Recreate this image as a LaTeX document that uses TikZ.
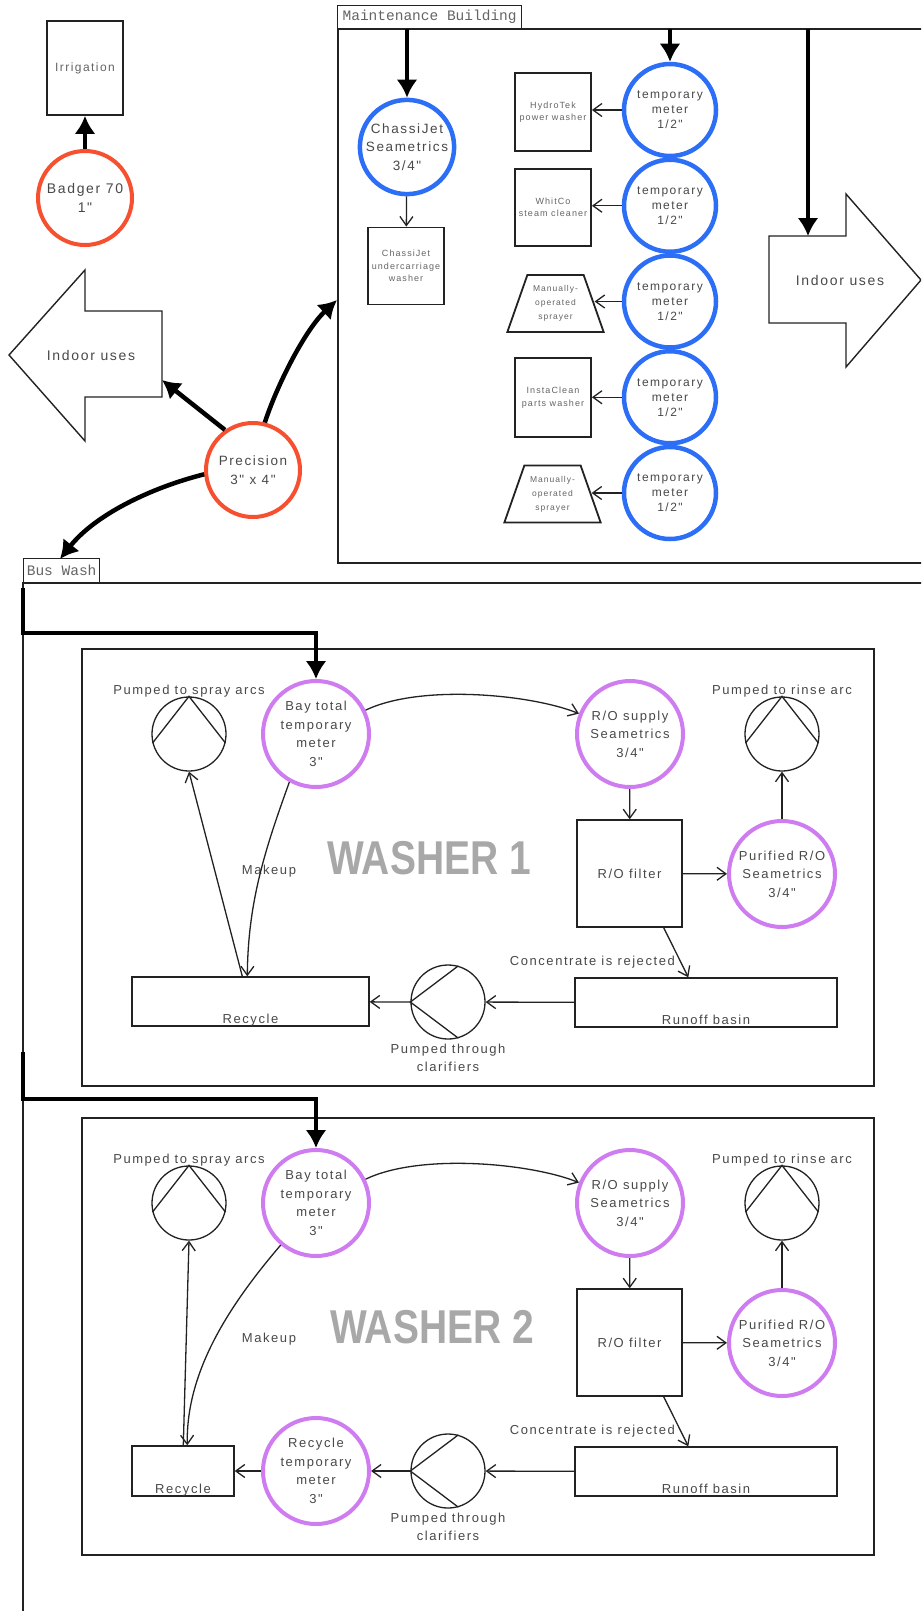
\documentclass[tikz,border=0pt]{standalone}
\usepackage{fontspec}
\setmainfont{Liberation Sans}
\newfontfamily\lblfont[LetterSpace=12]{Liberation Sans}
\newfontfamily\tagfont{Liberation Mono}
\usepackage{tikz}
\usetikzlibrary{shapes.geometric, arrows.meta}
\definecolor{meterred}{RGB}{246, 80, 48}
\definecolor{meterblue}{RGB}{44, 110, 246}
\definecolor{meterpurple}{RGB}{206, 124, 240}
\definecolor{textgray}{RGB}{72, 72, 72}
\definecolor{equipgray}{RGB}{100, 100, 100}
\definecolor{titlegray}{RGB}{168, 168, 168}
\definecolor{linegray}{RGB}{34, 34, 34}

\begin{document}
\begin{tikzpicture}[
  x=1pt, y=-1pt,
  meter/.style={circle, line width=4pt, inner sep=0pt, align=center, text=textgray},
  redmeter/.style={meter, draw=meterred, minimum size=94pt, font=\lblfont\fontsize{14}{19}\selectfont},
  bluemeter/.style={meter, draw=meterblue, line width=4.5pt, minimum size=92pt, font=\lblfont\fontsize{12}{15}\selectfont},
  washmeter/.style={meter, draw=meterpurple, minimum size=106pt, font=\lblfont\fontsize{13}{18.5}\selectfont},
  equip/.style={draw=linegray, line width=1.8pt, minimum width=76pt, minimum height=78pt, inner sep=0pt, align=center, text=equipgray, font=\lblfont\fontsize{9}{12.5}\selectfont},
  sprayer/.style={equip, trapezium, trapezium angle=66, trapezium stretches=true, minimum width=97pt, minimum height=57pt, font=\lblfont\fontsize{8.5}{14}\selectfont},
  tank/.style={draw=linegray, line width=1.4pt, inner sep=0pt, text=textgray, font=\lblfont\fontsize{13}{18.5}\selectfont},
  pump/.style={circle, draw=linegray, line width=1.3pt, minimum size=74pt, inner sep=0pt},
  impeller/.style={draw=linegray, line width=1.3pt},
  lbl/.style={text=textgray, inner sep=0pt, align=center, font=\lblfont\fontsize{13}{18.5}\selectfont},
  biglbl/.style={lbl, font=\lblfont\fontsize{14}{19}\selectfont},
  zone/.style={draw=linegray, line width=1.4pt},
  zonetag/.style={draw=linegray, line width=1.3pt, inner sep=0pt, text=equipgray, font=\tagfont\fontsize{14.5}{16}\selectfont},
  title/.style={text=titlegray, inner sep=0pt, font=\bfseries\fontsize{47.5}{50}\selectfont},
  feed/.style={line width=4.5pt, draw=black, -{Latex[length=18pt, width=21pt]}},
  flow/.style={line width=1.3pt, draw=linegray, -{Straight Barb[length=9pt, width=13pt]}}
]
  \useasboundingbox (0,0) rectangle (921,1611);
  \clip (0,0) rectangle (921,1611);

  \node[equip, minimum height=94pt, font=\lblfont\fontsize{12}{15}\selectfont] (irrig) at (85,68) {Irrigation};
  \node[redmeter] (badger) at (85,198) {Badger 70\\1"};
  \draw[feed] (badger) -- (irrig);

  \draw[zone] (9,355) -- (85,270) -- (85,311) -- (162,311) -- (162,397) -- (85,397) -- (85,441) -- cycle;
  \node[biglbl] (indoorL) at (91,355) {Indoor uses};
  \coordinate (indoorLin) at (162,380);

  \node[redmeter, font=\lblfont\fontsize{13.5}{19}\selectfont] (precision) at (253,470) {Precision\\3" x 4"};
  \coordinate (maintin) at (337,300);
  \coordinate (buswashin) at (60,559);
  \draw[feed] (precision.125) -- (indoorLin);
  \draw[feed] (precision.76) .. controls (277,385) and (305,330) .. (maintin);
  \draw[feed] (precision.185) .. controls (150,488) and (95,515) .. (buswashin);

  \node[zonetag, minimum width=184pt, minimum height=23pt, anchor=south west] (maintTag) at (337,29) {Maintenance Building};
  \draw[zone] (930,29) -- (338,29) -- (338,563) -- (930,563);
  \coordinate (chassiin) at (407,29);
  \coordinate (metersin) at (670,29);
  \coordinate (indoorRin) at (808,29);

  \node[bluemeter, font=\lblfont\fontsize{13.5}{18.5}\selectfont] (chassimeter) at (407,147) {ChassiJet\\Seametrics\\3/4"};
  \node[equip, minimum height=77pt] (chassiwasher) at (406,266) {ChassiJet\\undercarriage\\washer};
  \draw[feed] (chassiin) -- (chassimeter);
  \draw[flow] (chassimeter) -- (chassiwasher);

  \foreach \i/\y in {1/110, 2/205.75, 3/301.5, 4/397.25, 5/493}
    \node[bluemeter] (m\i) at (670,\y) {temporary\\meter\\1/2"};
  \draw[feed] (metersin) -- (m1);

  \node[equip] (u1) at (553,112) {HydroTek\\power washer};
  \node[equip, minimum height=77pt] (u2) at (553,207.5) {WhitCo\\steam cleaner};
  \node[sprayer] (u3) at (555.5,303.5) {Manually-\\operated\\sprayer};
  \node[equip, minimum height=79pt] (u4) at (553,397.5) {InstaClean\\parts washer};
  \node[sprayer] (u5) at (552.5,494) {Manually-\\operated\\sprayer};
  \foreach \i in {1,...,5}
    \draw[flow] (m\i.west) -- (m\i.west -| u\i.east);

  \draw[zone] (769,236) -- (846,236) -- (846,194) -- (921,280) -- (846,367) -- (846,323) -- (769,323) -- cycle;
  \node[biglbl] (indoorR) at (840,280) {Indoor uses};
  \coordinate (indoorRtop) at (808,236);
  \draw[feed] (indoorRin) -- (indoorRtop);

  \node[zonetag, minimum width=76pt, minimum height=24pt, anchor=south west] (busTag) at (23,583) {Bus Wash};
  \draw[zone] (930,583) -- (23,583) -- (23,1620);

  \draw[zone] (82,649) rectangle (874,1086);
  \node[title] (washer1) at (429,858) {\scalebox{0.82}[1]{WASHER 1}};
  \node[pump] (spray1) at (189,734) {};
  \draw[impeller] (spray1.194) -- (spray1.90) -- (spray1.346);
  \node[lbl, anchor=base] (spray1lbl) at (189,694) {Pumped to spray arcs};
  \node[washmeter] (bay1) at (316,734) {Bay total\\temporary\\meter\\3"};
  \node[washmeter] (ro1) at (630,734) {R/O supply\\Seametrics\\3/4"};
  \node[pump] (rinse1) at (782,734) {};
  \draw[impeller] (rinse1.194) -- (rinse1.90) -- (rinse1.346);
  \node[lbl, anchor=base] (rinse1lbl) at (782,694) {Pumped to rinse arc};
  \node[tank, minimum width=105pt, minimum height=107pt] (filter1) at (629.5,873.5) {R/O filter};
  \node[washmeter] (pur1) at (782,874) {Purified R/O\\Seametrics\\3/4"};
  \node[tank, minimum width=262pt, minimum height=49pt] (runoff1) at (706,1002.5) {};
  \node[lbl, anchor=base] (runoff1lbl) at ([yshift=3pt]runoff1.south) {Runoff basin};
  \node[pump] (clar1) at (448,1002) {};
  \draw[impeller] (clar1.74) -- (clar1.180) -- (clar1.-74);
  \node[lbl] (clar1lbl) at (448,1058) {Pumped through\\clarifiers};
  \node[tank, minimum width=237pt, minimum height=49pt] (rec1) at (250.5,1001.5) {};
  \node[lbl, anchor=base] (rec1lbl) at ([yshift=3pt]rec1.south) {Recycle};
  \node[lbl] (makeup1) at (269,871) {Makeup};
  \node[lbl, anchor=east] (reject1) at (675,962) {Concentrate is rejected};

  \coordinate (bw1a) at (23,588);
  \coordinate (bw1b) at (23,633);
  \draw[feed, line width=4pt] (bw1a) -- (bw1b) -| (bay1);
  \draw[flow] (bay1) .. controls (420,684) and (530,694) .. (ro1);
  \draw[flow] (ro1) -- (filter1);
  \draw[flow] (filter1) -- (pur1);
  \draw[flow] (pur1) -- (rinse1);
  \draw[flow] ([xshift=-19pt]filter1.south east) -- ([xshift=114pt]runoff1.north west);
  \draw[flow] (runoff1) -- (clar1);
  \draw[flow] (clar1.180) -- (rec1);
  \draw[flow] ([xshift=111pt]rec1.north west) -- (spray1.south);
  \draw[flow] (bay1.241) .. controls (266,847) and (248,900) .. ([xshift=116pt]rec1.north west);

  \draw[zone] (82,1118) rectangle (874,1555);
  \node[title] (washer2) at (432,1327) {\scalebox{0.82}[1]{WASHER 2}};
  \node[pump] (spray2) at (189,1203) {};
  \draw[impeller] (spray2.194) -- (spray2.90) -- (spray2.346);
  \node[lbl, anchor=base] (spray2lbl) at (189,1163) {Pumped to spray arcs};
  \node[washmeter] (bay2) at (316,1203) {Bay total\\temporary\\meter\\3"};
  \node[washmeter] (ro2) at (630,1203) {R/O supply\\Seametrics\\3/4"};
  \node[pump] (rinse2) at (782,1203) {};
  \draw[impeller] (rinse2.194) -- (rinse2.90) -- (rinse2.346);
  \node[lbl, anchor=base] (rinse2lbl) at (782,1163) {Pumped to rinse arc};
  \node[tank, minimum width=105pt, minimum height=107pt] (filter2) at (629.5,1342.5) {R/O filter};
  \node[washmeter] (pur2) at (782,1343) {Purified R/O\\Seametrics\\3/4"};
  \node[tank, minimum width=262pt, minimum height=49pt] (runoff2) at (706,1471.5) {};
  \node[lbl, anchor=base] (runoff2lbl) at ([yshift=3pt]runoff2.south) {Runoff basin};
  \node[pump] (clar2) at (448,1471) {};
  \draw[impeller] (clar2.74) -- (clar2.180) -- (clar2.-74);
  \node[lbl] (clar2lbl) at (448,1527) {Pumped through\\clarifiers};
  \node[washmeter] (recmeter2) at (316,1471) {Recycle\\temporary\\meter\\3"};
  \node[tank, minimum width=102pt, minimum height=50pt] (rec2) at (183,1471) {};
  \node[lbl, anchor=base] (rec2lbl) at ([yshift=3pt]rec2.south) {Recycle};
  \node[lbl] (makeup2) at (269,1339) {Makeup};
  \node[lbl, anchor=east] (reject2) at (675,1431) {Concentrate is rejected};

  \coordinate (bw2a) at (23,1052);
  \coordinate (bw2b) at (23,1099);
  \draw[feed, line width=4pt] (bw2a) -- (bw2b) -| (bay2);
  \draw[flow] (bay2) .. controls (420,1153) and (530,1163) .. (ro2);
  \draw[flow] (ro2) -- (filter2);
  \draw[flow] (filter2) -- (pur2);
  \draw[flow] (pur2) -- (rinse2);
  \draw[flow] ([xshift=-19pt]filter2.south east) -- ([xshift=114pt]runoff2.north west);
  \draw[flow] (runoff2) -- (clar2);
  \draw[flow] (clar2.180) -- (recmeter2);
  \draw[flow] (recmeter2) -- (rec2);
  \draw[flow] ([xshift=52pt]rec2.north west) -- (spray2.south);
  \draw[flow] (bay2.230) .. controls (225,1310) and (186,1375) .. ([xshift=56pt]rec2.north west);
\end{tikzpicture}
\end{document}
